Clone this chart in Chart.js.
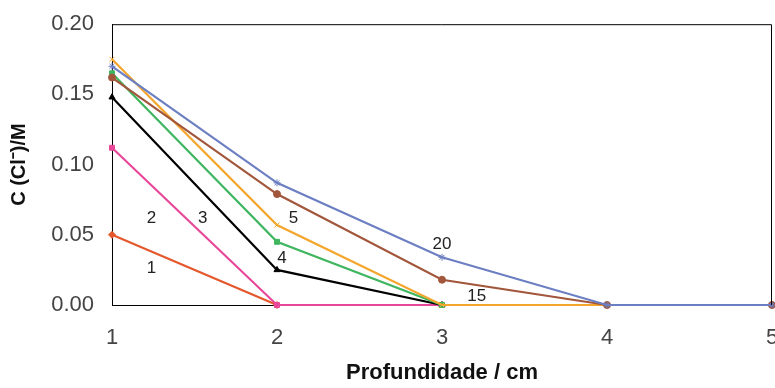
<!DOCTYPE html>
<html lang="pt">
<head>
<meta charset="UTF-8">
<title>C (Cl-) vs profundidade</title>
<script src="https://cdn.jsdelivr.net/npm/chart.js@4.4.1/dist/chart.umd.min.js"></script>
<style>
  html, body { margin: 0; padding: 0; background: #fff; }
  #wrap { width: 775px; height: 388px; }
</style>
</head>
<body>
<div id="wrap"><canvas id="chart" width="775" height="388"></canvas></div>
<script>
// profundidade (cm)
const depths = [1, 2, 3, 4, 5];

// concentração por série (tempo)
const s1  = [0.050, 0.000, null, null, null];
const s2  = [0.112, 0.000, 0.000, null, null];
const s3  = [0.148, 0.025, 0.000, null, null];
const s4  = [0.165, 0.045, 0.000, null, null];
const s5  = [0.175, 0.057, 0.000, 0.000, null];
const s15 = [0.162, 0.079, 0.018, 0.000, 0.000];
const s20 = [0.170, 0.087, 0.034, 0.000, 0.000];

const yTicks = [0, 0.05, 0.10, 0.15, 0.20];

// rótulos das curvas (posição em unidades dos eixos)
const labelText = ['1', '2', '3', '4', '5', '15', '20'];
const labelX = [1.24, 1.24, 1.55, 2.03, 2.10, 3.21, 3.0];
const labelY = [0.026, 0.062, 0.062, 0.033, 0.062, 0.006, 0.043];

function pts(arr) {
  return depths.map((d, i) => ({ x: d, y: arr[i] }));
}

function ds(arr, color, style) {
  return {
    data: pts(arr),
    borderColor: color,
    backgroundColor: color,
    borderWidth: 2.2,
    pointStyle: style,
    pointRadius: 3.5,
    pointBorderWidth: 1,
    spanGaps: false,
    tension: 0,
    clip: 6
  };
}

const framePlugin = {
  id: 'frame',
  afterDraw(chart) {
    const a = chart.chartArea;
    const c = chart.ctx;
    c.save();
    c.strokeStyle = '#000';
    c.lineWidth = 1;
    c.beginPath();
    c.moveTo(a.left, a.top + 0.5);
    c.lineTo(a.right - 0.5, a.top + 0.5);
    c.lineTo(a.right - 0.5, a.bottom);
    c.stroke();
    // rótulos
    c.fillStyle = '#222';
    c.font = '17px "Liberation Sans", Arial, sans-serif';
    c.textAlign = 'center';
    c.textBaseline = 'middle';
    const xs = chart.scales.x, ys = chart.scales.y;
    labelText.forEach((t, i) => {
      c.fillText(t, xs.getPixelForValue(labelX[i]), ys.getPixelForValue(labelY[i]));
    });
    c.restore();
  }
};

new Chart(document.getElementById('chart'), {
  type: 'line',
  data: {
    datasets: [
      ds(s20, '#6c7fc2', 'star'),
      ds(s15, '#a2573c', 'circle'),
      ds(s5, '#f4a52c', 'crossRot'),
      ds(s4, '#3fb65f', 'rect'),
      ds(s3, '#000000', 'triangle'),
      ds(s2, '#e8489a', 'rect'),
      ds(s1, '#e4582c', 'rectRot')
    ]
  },
  options: {
    responsive: false,
    animation: false,
    layout: { autoPadding: false, padding: { top: 23, right: 3, left: 3, bottom: 0 } },
    plugins: {
      legend: { display: false },
      tooltip: { enabled: false }
    },
    scales: {
      x: {
        type: 'linear',
        min: 1, max: 5,
        grid: { display: false, drawTicks: true, tickLength: 6, color: '#000' },
        border: { color: '#000', width: 1 },
        ticks: {
          stepSize: 1,
          color: '#444',
          padding: 14,
          font: { family: '"Liberation Sans", Arial, sans-serif', size: 22 }
        },
        title: {
          display: true,
          text: 'Profundidade / cm',
          color: '#111',
          font: { family: '"Liberation Sans", Arial, sans-serif', size: 22, weight: 'bold' },
          padding: { top: 4, bottom: 2 }
        },
        afterFit(scale) {
          scale.height = 83;
          scale.paddingRight = 0;
        }
      },
      y: {
        min: 0, max: 0.2,
        afterBuildTicks(scale) { scale.ticks = yTicks.map(v => ({ value: v })); },
        grid: { display: false, drawTicks: true, tickLength: 7, color: '#000' },
        border: { color: '#000', width: 1 },
        ticks: {
          color: '#444',
          padding: 11,
          font: { family: '"Liberation Sans", Arial, sans-serif', size: 22 },
          callback: v => v.toFixed(2)
        },
        title: {
          display: true,
          text: 'C (Cl\u207B)/M',
          color: '#111',
          font: { family: '"Liberation Sans", Arial, sans-serif', size: 20, weight: 'bold' },
          padding: { top: 4, bottom: 4 }
        },
        afterFit(scale) { scale.width = 109; }
      }
    }
  },
  plugins: [framePlugin]
});
</script>
</body>
</html>
